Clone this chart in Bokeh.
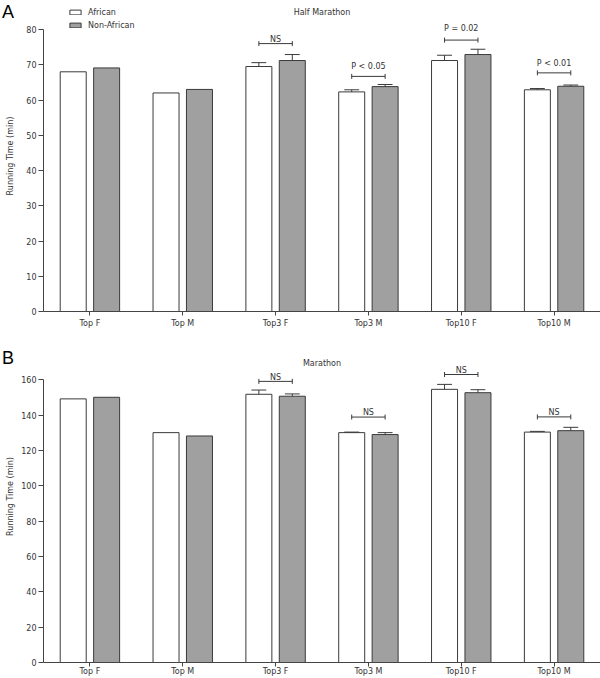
from math import pi

from bokeh.plotting import figure
from bokeh.models import (FactorRange, Range1d, FixedTicker, Label, Legend,
                          LegendItem, ColumnDataSource, GridBox, Div)
from bokeh.transform import dodge
from bokeh.embed import file_html
from bokeh.resources import INLINE
from bokeh.core.properties import value

# ---------------- data ----------------
categories = ["Top F", "Top M", "Top3 F", "Top3 M", "Top10 F", "Top10 M"]
series_names = ["African", "Non-African"]

# Half marathon running time (min)
half_african = [68.0, 62.0, 69.5, 62.3, 71.2, 62.9]
half_non_african = [69.1, 63.0, 71.2, 63.8, 72.9, 63.9]
half_african_err = [0.0, 0.0, 1.1, 0.6, 1.5, 0.35]
half_non_african_err = [0.0, 0.0, 1.7, 0.6, 1.5, 0.35]
half_sig_categories = ["Top3 F", "Top3 M", "Top10 F", "Top10 M"]
half_sig_labels = ["NS", "P < 0.05", "P = 0.02", "P < 0.01"]
half_sig_bracket = [76.0, 66.7, 77.0, 67.7]
half_sig_text = [77.1, 69.6, 80.2, 70.3]
half_ticks = [0, 10, 20, 30, 40, 50, 60, 70, 80]

# Marathon running time (min)
mar_african = [149.2, 130.1, 151.8, 130.1, 154.6, 130.4]
mar_non_african = [150.1, 128.2, 150.7, 129.0, 152.7, 131.2]
mar_african_err = [0.0, 0.0, 2.4, 0.3, 2.8, 0.4]
mar_non_african_err = [0.0, 0.0, 1.3, 1.1, 1.7, 1.9]
mar_sig_categories = ["Top3 F", "Top3 M", "Top10 F", "Top10 M"]
mar_sig_labels = ["NS", "NS", "NS", "NS"]
mar_sig_bracket = [159.1, 138.9, 163.0, 139.0]
mar_sig_text = [161.3, 141.5, 165.5, 141.3]
mar_ticks = [0, 20, 40, 60, 80, 100, 120, 140, 160]

# ---------------- style ----------------
FONT = "DejaVu Sans"
TXT = "#333333"
AXC = "#444444"
EDGE = "#3a3a3a"
GREY = "#a0a0a0"
OFF = 0.18
BW = 0.28
CAP = 0.08


def make_panel(title, af, non, af_err, non_err, sig_cats, sig_labels,
               sig_bracket, sig_text, ticks, y_max, height, bottom_border,
               axis_label_standoff, x_label_standoff, title_y, legend_loc=None):
    p = figure(x_range=FactorRange(*categories), y_range=Range1d(0, y_max),
               width=600, height=height, output_backend="svg",
               toolbar_location=None, min_border_left=43, min_border_right=0,
               min_border_top=0, min_border_bottom=bottom_border)
    p.outline_line_color = None
    p.xgrid.visible = False
    p.ygrid.visible = False
    p.background_fill_color = "white"
    p.border_fill_color = "white"

    src = ColumnDataSource(dict(cat=categories, af=af, non=non))
    r_af = p.vbar(x=dodge("cat", -OFF, range=p.x_range), top="af", width=BW,
                  source=src, fill_color="white", line_color=EDGE, line_width=1)
    r_non = p.vbar(x=dodge("cat", OFF, range=p.x_range), top="non", width=BW,
                   source=src, fill_color=GREY, line_color=EDGE, line_width=1)

    # error bars (upper whisker only)
    for vals, errs, off in ((af, af_err, -OFF), (non, non_err, OFF)):
        cats = [c for c, e in zip(categories, errs) if e > 0]
        lo = [v for v, e in zip(vals, errs) if e > 0]
        hi = [v + e for v, e in zip(vals, errs) if e > 0]
        es = ColumnDataSource(dict(cat=cats, lo=lo, hi=hi))
        p.segment(x0=dodge("cat", off, range=p.x_range), y0="lo",
                  x1=dodge("cat", off, range=p.x_range), y1="hi",
                  source=es, line_color=EDGE, line_width=1)
        p.segment(x0=dodge("cat", off - CAP, range=p.x_range), y0="hi",
                  x1=dodge("cat", off + CAP, range=p.x_range), y1="hi",
                  source=es, line_color=EDGE, line_width=1)

    # significance brackets
    ss = ColumnDataSource(dict(cat=sig_cats, b=sig_bracket, t=sig_text,
                               lab=sig_labels))
    p.segment(x0=dodge("cat", -OFF, range=p.x_range), y0="b",
              x1=dodge("cat", OFF, range=p.x_range), y1="b",
              source=ss, line_color=EDGE, line_width=1)
    for off in (-OFF, OFF):
        p.scatter(x=dodge("cat", off, range=p.x_range), y="b", source=ss,
                  marker="dash", angle=pi / 2, size=5, line_color=EDGE,
                  line_width=1)
    p.text(x=dodge("cat", 0, range=p.x_range), y="t", text="lab", source=ss,
           text_align="center", text_baseline="middle",
           text_font=value(FONT), text_font_size="8px", text_color=TXT)

    # axes
    p.yaxis.ticker = FixedTicker(ticks=ticks)
    p.yaxis.bounds = (ticks[0], ticks[-1])
    p.yaxis.axis_label = "Running Time (min)"
    p.yaxis.axis_label_text_font = FONT
    p.yaxis.axis_label_text_font_size = "8px"
    p.yaxis.axis_label_text_font_style = "normal"
    p.yaxis.axis_label_text_color = TXT
    p.yaxis.axis_label_standoff = axis_label_standoff
    for ax in (p.xaxis[0], p.yaxis[0]):
        ax.axis_line_color = AXC
        ax.major_tick_line_color = AXC
        ax.minor_tick_line_color = None
        ax.major_tick_in = 0
        ax.major_label_text_font = FONT
        ax.major_label_text_font_size = "8px"
        ax.major_label_text_color = TXT
    p.yaxis.major_tick_out = 5
    p.yaxis.major_label_standoff = 2
    p.xaxis.major_tick_out = 4
    p.xaxis.major_label_standoff = x_label_standoff

    p.add_layout(Label(x=3.0, y=title_y, text=title, text_align="center",
                       text_baseline="middle", text_font=FONT,
                       text_font_size="8px", text_color=TXT))

    if legend_loc is not None:
        leg = Legend(items=[LegendItem(label=series_names[0], renderers=[r_af]),
                            LegendItem(label=series_names[1], renderers=[r_non])],
                     location=legend_loc, orientation="vertical",
                     glyph_width=14, glyph_height=6, label_height=13,
                     spacing=0, padding=0, margin=0, label_standoff=6,
                     border_line_color=None, background_fill_alpha=0,
                     label_text_font=FONT, label_text_font_size="8px",
                     label_text_color=TXT)
        p.add_layout(leg)
    return p


def panel_letter(letter, top):
    html = ('<div style="position:relative; left:2px; top:%dpx; '
            'font-family:\'Liberation Sans\'; font-size:18px; line-height:18px; '
            'color:#000;">%s</div>' % (top, letter))
    return Div(text=html, width=20, height=24, margin=0)


p1 = make_panel("Half Marathon", half_african, half_non_african,
                half_african_err, half_non_african_err, half_sig_categories,
                half_sig_labels, half_sig_bracket, half_sig_text, half_ticks,
                88.23, 330, 19, 8, 3, 84.9, legend_loc=(25, 279.5))
p2 = make_panel("Marathon", mar_african, mar_non_african,
                mar_african_err, mar_non_african_err, mar_sig_categories,
                mar_sig_labels, mar_sig_bracket, mar_sig_text, mar_ticks,
                187.9, 348, 14, 3, 0, 169.3)

layout = GridBox(children=[(p1, 0, 0), (panel_letter("A", 3), 0, 0),
                           (p2, 1, 0), (panel_letter("B", 19), 1, 0)],
                 spacing=0)
open("out.html", "w").write(file_html(layout, INLINE))
